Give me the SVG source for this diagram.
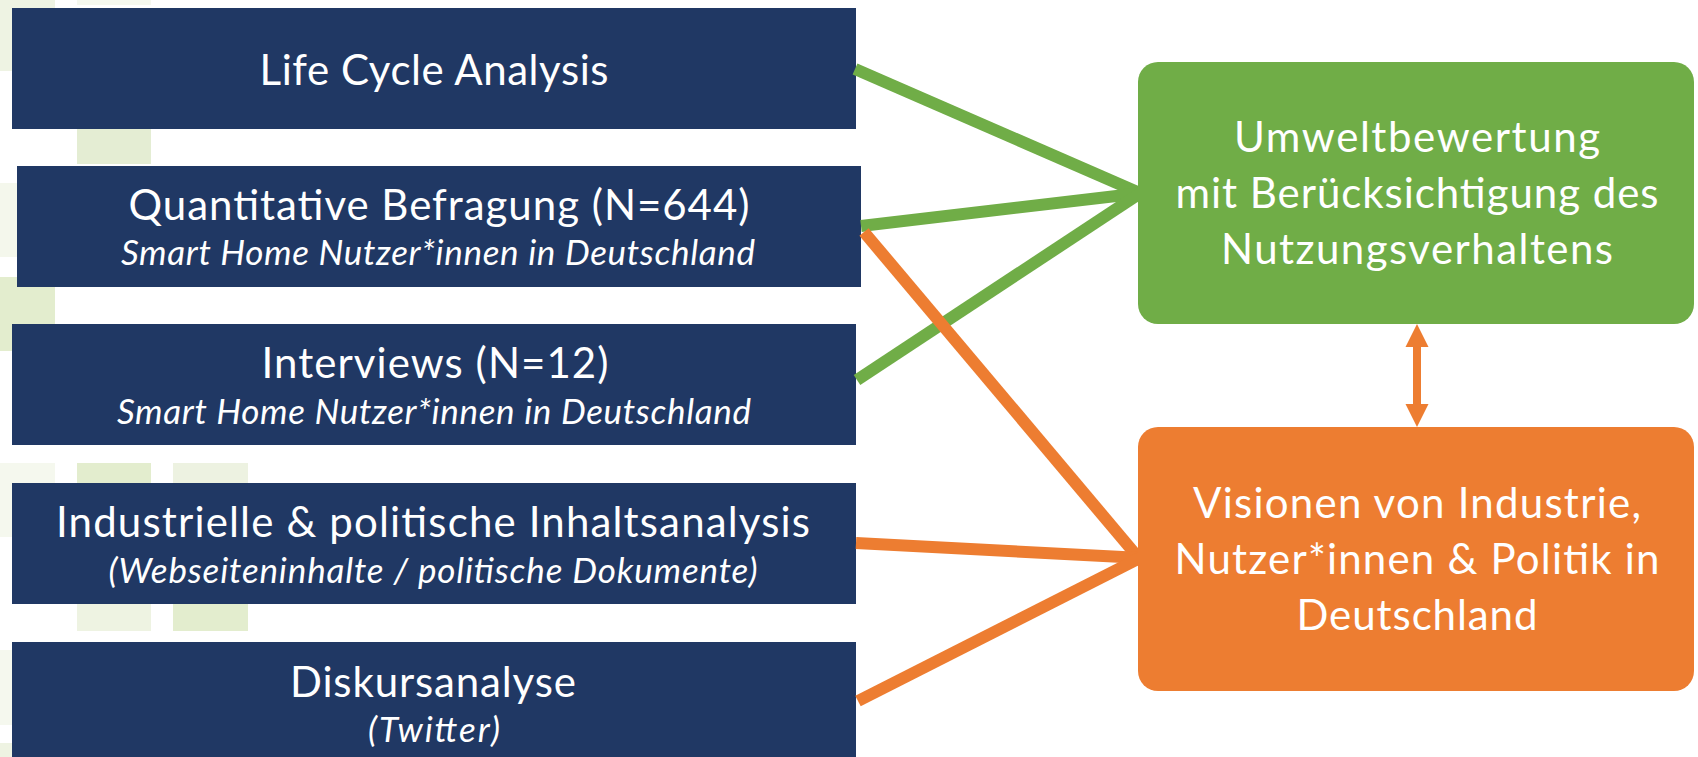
<svg xmlns="http://www.w3.org/2000/svg" width="1698" height="757" viewBox="0 0 1698 757">
<style>
.box{fill:#203864}
.t{font-family:Lato,"Liberation Sans",sans-serif;fill:#ffffff;text-anchor:middle}
.m{font-size:42px}
.i{font-size:35px;font-style:italic}
.g{stroke:#70AD47;stroke-width:12;fill:none}
.o{stroke:#ED7D31;stroke-width:12;fill:none}
</style>
<rect width="1698" height="757" fill="#ffffff"/>
<g id="background">
<rect x="-19" y="-3" width="74" height="74" fill="#EEF3E3"/>
<rect x="77" y="-69" width="74" height="74" fill="#F5F8EF"/>
<rect x="77" y="90" width="74" height="74" fill="#E4EDD3"/>
<rect x="-19" y="183" width="74" height="74" fill="#F4F7EC"/>
<rect x="-19" y="277" width="74" height="74" fill="#E3EDCE"/>
<rect x="-19" y="463" width="74" height="74" fill="#F5F8EE"/>
<rect x="77" y="463" width="74" height="74" fill="#E3EDCE"/>
<rect x="173" y="463" width="75" height="74" fill="#EDF2E1"/>
<rect x="77" y="557" width="74" height="74" fill="#EEF3E2"/>
<rect x="173" y="557" width="75" height="74" fill="#E3EDCE"/>
<rect x="-19" y="650" width="74" height="75" fill="#F5F8EE"/>
<rect x="-19" y="743" width="74" height="74" fill="#EEF3E2"/>
</g>
<g id="n1">
<rect class="box" x="12" y="8" width="844" height="121"/>
<text class="t m" x="434" y="85" textLength="349" lengthAdjust="spacing">Life Cycle Analysis</text>
</g>
<g id="n2">
<rect class="box" x="17" y="166" width="844" height="121"/>
<text class="t m" x="439" y="220" textLength="621" lengthAdjust="spacing">Quantitative Befragung (N=644)</text>
<text class="t i" x="438" y="265" textLength="634" lengthAdjust="spacing">Smart Home Nutzer*innen in Deutschland</text>
</g>
<g id="n3">
<rect class="box" x="12" y="324" width="844" height="121"/>
<text class="t m" x="435" y="378" textLength="347" lengthAdjust="spacing">Interviews (N=12)</text>
<text class="t i" x="434" y="424" textLength="634" lengthAdjust="spacing">Smart Home Nutzer*innen in Deutschland</text>
</g>
<g id="n4">
<rect class="box" x="12" y="483" width="844" height="121"/>
<text class="t m" x="433" y="537" textLength="754" lengthAdjust="spacing">Industrielle &amp; politische Inhaltsanalysis</text>
<text class="t i" x="433" y="583" textLength="649" lengthAdjust="spacing">(Webseiteninhalte / politische Dokumente)</text>
</g>
<g id="n5">
<rect class="box" x="12" y="642" width="844" height="120"/>
<text class="t m" x="433" y="697" textLength="286" lengthAdjust="spacing">Diskursanalyse</text>
<text class="t i" x="434" y="742" textLength="132" lengthAdjust="spacing">(Twitter)</text>
</g>
<g id="connectors">
<line class="g" x1="855" y1="69" x2="1142" y2="194"/>
<line class="g" x1="861" y1="226" x2="1142" y2="193"/>
<line class="g" x1="857" y1="380" x2="1142" y2="192"/>
<line class="o" x1="864" y1="232" x2="1142" y2="562"/>
<line class="o" x1="856" y1="543" x2="1142" y2="558"/>
<line class="o" x1="858" y1="701" x2="1142" y2="557"/>
<path d="M1417 324 L1428.5 347 L1421 347 L1421 404 L1428.5 404 L1417 427 L1405.5 404 L1413 404 L1413 347 L1405.5 347 Z" fill="#ED7D31"/>
</g>
<g id="n6">
<rect x="1138" y="62" width="556" height="262" rx="20" ry="20" fill="#70AD47"/>
<text class="t m" x="1417" y="152" textLength="366" lengthAdjust="spacing">Umweltbewertung</text>
<text class="t m" x="1417" y="208" textLength="483" lengthAdjust="spacing">mit Berücksichtigung des</text>
<text class="t m" x="1417" y="264" textLength="392" lengthAdjust="spacing">Nutzungsverhaltens</text>
</g>
<g id="n7">
<rect x="1138" y="427" width="556" height="264" rx="20" ry="20" fill="#ED7D31"/>
<text class="t m" x="1417" y="518" textLength="448" lengthAdjust="spacing">Visionen von Industrie,</text>
<text class="t m" x="1417" y="574" textLength="485" lengthAdjust="spacing">Nutzer*innen &amp; Politik in</text>
<text class="t m" x="1417" y="630" textLength="241" lengthAdjust="spacing">Deutschland</text>
</g>
</svg>
